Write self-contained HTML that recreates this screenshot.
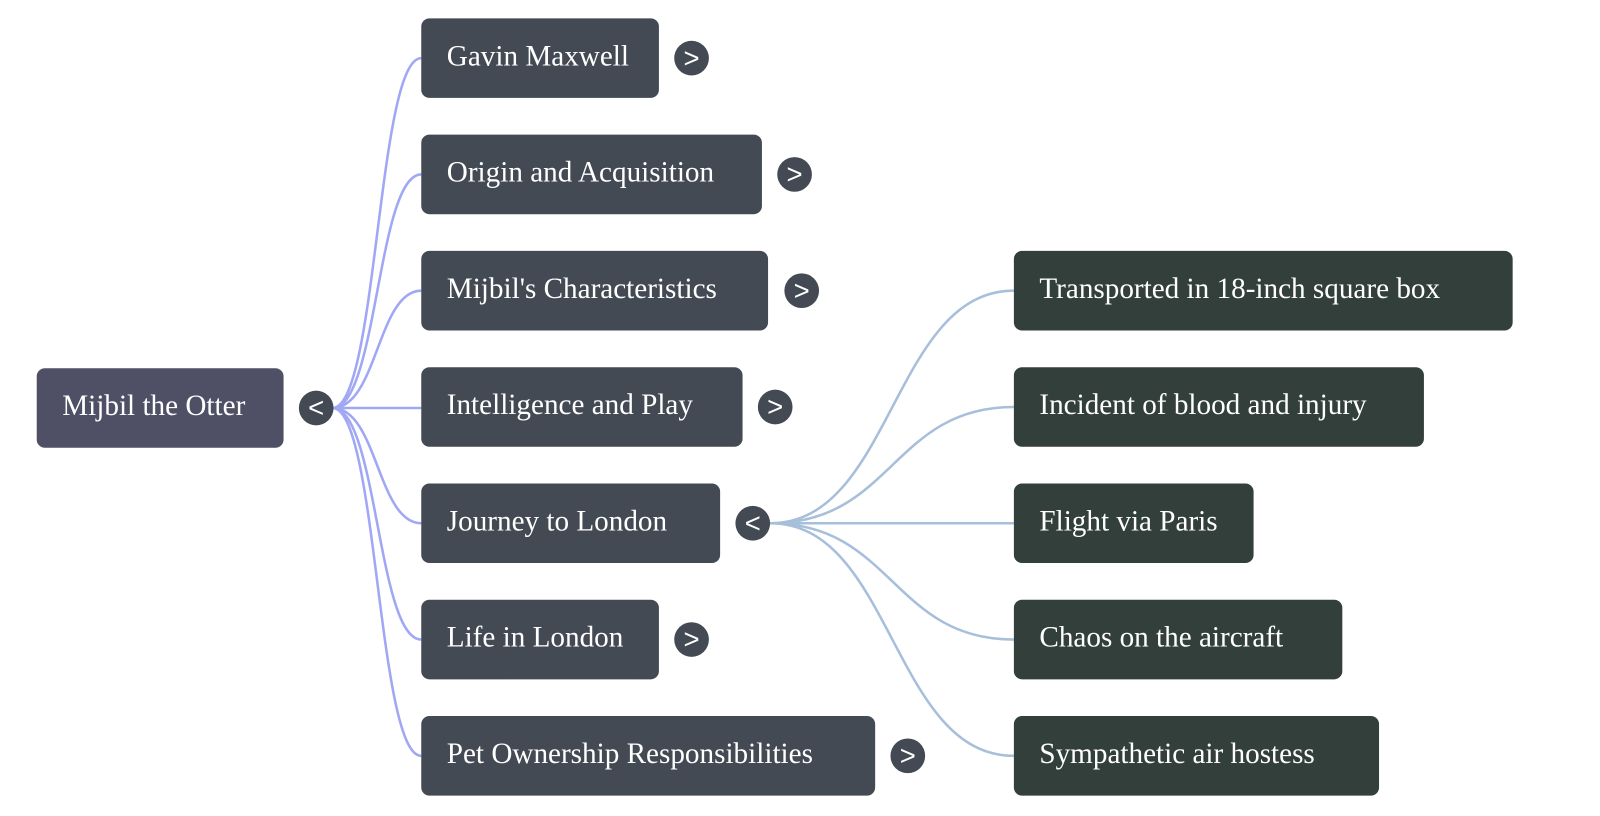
<!DOCTYPE html>
<html><head><meta charset="utf-8"><style>
body{margin:0;width:1600px;height:816px;background:#fff;position:relative;overflow:hidden;font-family:"Liberation Serif",serif;}
#w{position:absolute;left:0;top:0;width:1570px;height:800px;transform:scale(1.02);transform-origin:0 0}
.n{position:absolute;height:78px;border-radius:8px;color:#fff;font-size:28.6px;line-height:76px;padding-left:25px;box-sizing:border-box;white-space:nowrap}
.a{background:#434a54}.r{background:#4f5066}.g{background:#323f3a}
.c{position:absolute;width:34px;height:34px;border-radius:50%;background:#434a54;color:#fff;font-family:"Liberation Sans",sans-serif;font-size:27px;line-height:34px;text-align:center}
svg{position:absolute;left:0;top:0}
</style></head><body><div id="w">
<svg width="1570" height="800" fill="none" stroke-width="2.5">
<g stroke="#a0a8f5">
<path d="M326 400 C370 400 370 57 413 57"/>
<path d="M326 400 C370 400 370 171 413 171"/>
<path d="M326 400 C370 400 370 285 413 285"/>
<path d="M326 400 L413 400"/>
<path d="M326 400 C370 400 370 513 413 513"/>
<path d="M326 400 C370 400 370 627 413 627"/>
<path d="M326 400 C370 400 370 741 413 741"/>
</g>
<g stroke="#a7bfdb">
<path d="M755 513 C875 513 875 285 994 285"/>
<path d="M755 513 C875 513 875 399 994 399"/>
<path d="M755 513 L994 513"/>
<path d="M755 513 C875 513 875 627 994 627"/>
<path d="M755 513 C875 513 875 741 994 741"/>
</g>
</svg>
<div class="n r" style="left:36px;top:361px;width:242px">Mijbil the Otter</div>
<div class="c" style="left:293px;top:383px">&lt;</div>
<div class="n a" style="left:413px;top:18px;width:233px">Gavin Maxwell</div><div class="c" style="left:661px;top:40px">&gt;</div>
<div class="n a" style="left:413px;top:132px;width:334px">Origin and Acquisition</div><div class="c" style="left:762px;top:154px">&gt;</div>
<div class="n a" style="left:413px;top:246px;width:340px">Mijbil's Characteristics</div><div class="c" style="left:769px;top:268px">&gt;</div>
<div class="n a" style="left:413px;top:360px;width:315px">Intelligence and Play</div><div class="c" style="left:743px;top:382px">&gt;</div>
<div class="n a" style="left:413px;top:474px;width:293px">Journey to London</div><div class="c" style="left:721px;top:496px">&lt;</div>
<div class="n a" style="left:413px;top:588px;width:233px">Life in London</div><div class="c" style="left:661px;top:610px">&gt;</div>
<div class="n a" style="left:413px;top:702px;width:445px">Pet Ownership Responsibilities</div><div class="c" style="left:873px;top:724px">&gt;</div>
<div class="n g" style="left:994px;top:246px;width:489px">Transported in 18-inch square box</div>
<div class="n g" style="left:994px;top:360px;width:402px">Incident of blood and injury</div>
<div class="n g" style="left:994px;top:474px;width:235px">Flight via Paris</div>
<div class="n g" style="left:994px;top:588px;width:322px">Chaos on the aircraft</div>
<div class="n g" style="left:994px;top:702px;width:358px">Sympathetic air hostess</div>
</div></body></html>
